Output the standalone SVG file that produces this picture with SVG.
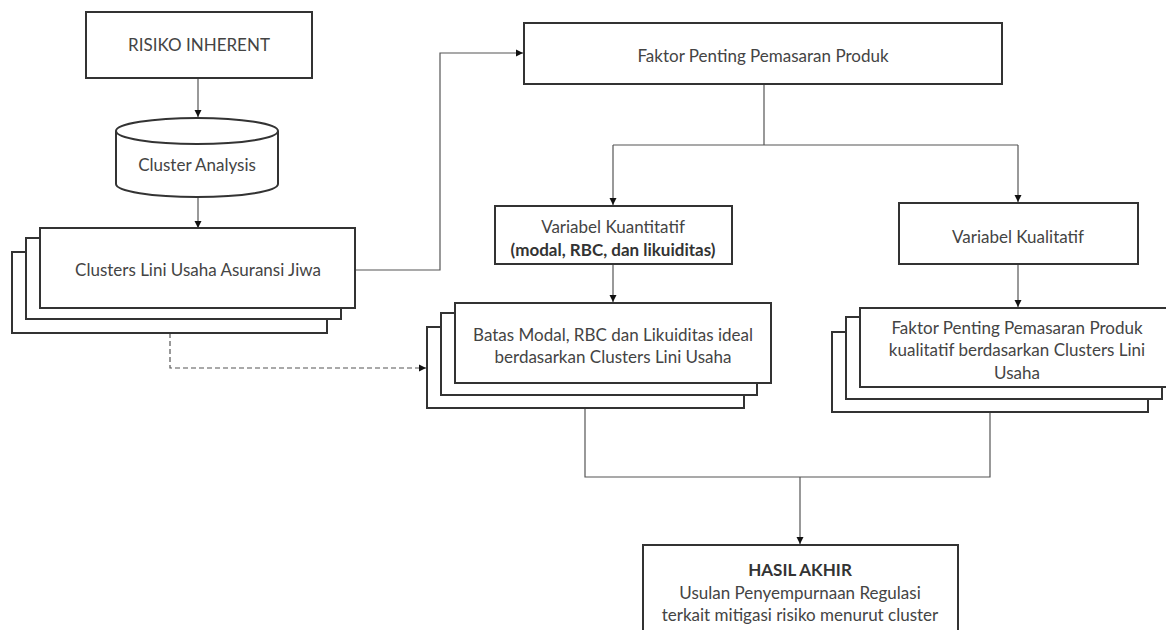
<svg xmlns="http://www.w3.org/2000/svg" width="1166" height="630" viewBox="0 0 1166 630">
<defs>
<marker id="arr" markerWidth="8" markerHeight="8" refX="7" refY="4" orient="auto" markerUnits="userSpaceOnUse">
<path d="M0,0.5 L7,4 L0,7.5 Z" fill="#111"/>
</marker>
<style>
.box{fill:#fff;stroke:#333;stroke-width:2}
.t{font-family:Lato,"Liberation Sans",sans-serif;font-size:17px;fill:#444;text-anchor:middle}
.b{font-weight:bold;fill:#333}
.c{fill:none;stroke:#555;stroke-width:1.2}
.d{fill:none;stroke:#555;stroke-width:1.2;stroke-dasharray:5,3}
</style>
</defs>
<rect width="1166" height="630" fill="#fff"/>

<g id="connectors">
<path class="c" d="M198,78 V117" marker-end="url(#arr)"/>
<path class="c" d="M198,197 V228" marker-end="url(#arr)"/>
<path class="c" d="M355,270 H440 V53 H523" marker-end="url(#arr)"/>
<path class="c" d="M764,84 V145 M613,145 H1018"/>
<path class="c" d="M613,145 V205" marker-end="url(#arr)"/>
<path class="c" d="M1018,145 V202" marker-end="url(#arr)"/>
<path class="c" d="M613,264 V302" marker-end="url(#arr)"/>
<path class="c" d="M1018,264 V307" marker-end="url(#arr)"/>
<path class="d" d="M170,333 V368 H426" marker-end="url(#arr)"/>
<path class="c" d="M585,408 V477 H990 V412 M800,477 V544" marker-end="url(#arr)"/>
</g>

<g id="risiko">
<rect class="box" x="86" y="12" width="226" height="66"/>
<text class="t" x="199" y="51" font-size="14">RISIKO INHERENT</text>
</g>

<g id="cluster-analysis">
<path class="box" d="M116,131 V184 A81,13 0 0 0 278,184 V131"/>
<ellipse class="box" cx="197" cy="131" rx="81" ry="13"/>
<text class="t" x="197" y="171">Cluster Analysis</text>
</g>

<g id="clusters">
<rect class="box" x="12" y="252" width="315" height="81"/>
<rect class="box" x="26" y="238" width="315" height="81"/>
<rect class="box" x="40" y="228" width="315" height="80"/>
<text class="t" x="198" y="276">Clusters Lini Usaha Asuransi Jiwa</text>
</g>

<g id="faktor">
<rect class="box" x="524" y="23" width="478" height="61"/>
<text class="t" x="763" y="62">Faktor Penting Pemasaran Produk</text>
</g>

<g id="kuantitatif">
<rect class="box" x="495" y="206" width="237" height="58"/>
<text class="t" x="613" y="233">Variabel Kuantitatif</text>
<text class="t b" x="613" y="256">(modal, RBC, dan likuiditas)</text>
</g>

<g id="kualitatif">
<rect class="box" x="899" y="203" width="239" height="61"/>
<text class="t" x="1018" y="243">Variabel Kualitatif</text>
</g>

<g id="batas">
<rect class="box" x="427" y="327" width="317" height="81"/>
<rect class="box" x="441" y="313" width="316" height="82"/>
<rect class="box" x="455" y="303" width="316" height="80"/>
<text class="t" x="613" y="341">Batas Modal, RBC dan Likuiditas ideal</text>
<text class="t" x="613" y="363">berdasarkan Clusters Lini Usaha</text>
</g>

<g id="faktor-kualitatif">
<rect class="box" x="832" y="332" width="316" height="80"/>
<rect class="box" x="846" y="317" width="316" height="82"/>
<rect class="box" x="860" y="308" width="316" height="79"/>
<text class="t" x="1017" y="334">Faktor Penting Pemasaran Produk</text>
<text class="t" x="1017" y="356">kualitatif berdasarkan Clusters Lini</text>
<text class="t" x="1017" y="379">Usaha</text>
</g>

<g id="hasil">
<rect class="box" x="643" y="545" width="315" height="100"/>
<text class="t b" x="800" y="576" font-size="16">HASIL AKHIR</text>
<text class="t" x="800" y="599">Usulan Penyempurnaan Regulasi</text>
<text class="t" x="800" y="621">terkait mitigasi risiko menurut cluster</text>
</g>
</svg>
